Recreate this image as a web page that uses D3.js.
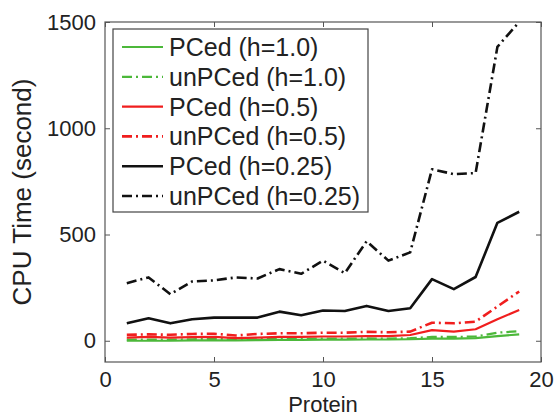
<!DOCTYPE html>
<html><head><meta charset="utf-8">
<script src="https://cdn.jsdelivr.net/npm/d3@7/dist/d3.min.js"></script>
<style>body{margin:0;background:#fff}svg{display:block;font-family:"Liberation Sans",Arial,sans-serif}</style>
</head><body><svg id="c" width="557" height="417"></svg>
<script>
const proteins = [1,2,3,4,5,6,7,8,9,10,11,12,13,14,15,16,17,18,19];
const pcedH10   = [0,0,0,2,2,2,3,4,4,5,5,6,6,7,10,10,12,22,30];
const unpcedH10 = [5,6,5,7,8,6,7,9,9,10,10,11,10,12,18,18,20,38,45];
const pcedH05   = [15,18,15,17,18,12,15,18,18,20,20,22,22,27,50,43,54,101,145];
const unpcedH05 = [28,30,28,32,33,25,32,35,35,38,38,42,40,43,85,82,90,161,232];
const pcedH025  = [82,106,82,101,109,109,109,137,120,142,140,164,140,153,290,243,300,555,607];
const unpcedH025= [271,298,219,279,284,298,293,337,315,377,318,468,377,416,807,784,789,1383,1500];
const seriesNames = ["PCed (h=1.0)","unPCed (h=1.0)","PCed (h=0.5)","unPCed (h=0.5)","PCed (h=0.25)","unPCed (h=0.25)"];
const xTicks = [0,5,10,15,20];
const yTicks = [0,500,1000,1500];

const series = [
  {name:seriesNames[0], vals:pcedH10,   color:"#4cb83a", dash:null, w:2.2},
  {name:seriesNames[1], vals:unpcedH10, color:"#4cb83a", dash:"10,4,2,4", w:2.2},
  {name:seriesNames[2], vals:pcedH05,   color:"#f01e1e", dash:null, w:2.2},
  {name:seriesNames[3], vals:unpcedH05, color:"#f01e1e", dash:"10,4,2,4", w:2.6},
  {name:seriesNames[4], vals:pcedH025,  color:"#111", dash:null, w:2.6},
  {name:seriesNames[5], vals:unpcedH025,color:"#111", dash:"10,4,2,4", w:2.6}
];

const L=105, R=541, T=22, B=362;
const svg = d3.select("#c");
const x = d3.scaleLinear().domain([0,20]).range([L,R]);
const y = d3.scaleLinear().domain([-100,1500]).range([B,T]);
const fmt = d3.format("d");

svg.append("defs").append("clipPath").attr("id","clip")
  .append("rect").attr("x",L).attr("y",T).attr("width",R-L).attr("height",B-T);

const axCol="#555";
const gx = svg.append("g").attr("transform",`translate(0,${B})`)
  .call(d3.axisBottom(x).tickValues(xTicks).tickFormat(fmt).tickSize(-5).tickPadding(9));
const gx2 = svg.append("g").attr("transform",`translate(0,${T})`)
  .call(d3.axisTop(x).tickValues(xTicks).tickSize(-5).tickFormat(""));
const gy = svg.append("g").attr("transform",`translate(${L},0)`)
  .call(d3.axisLeft(y).tickValues(yTicks).tickFormat(fmt).tickSize(-5).tickPadding(9));
const gy2 = svg.append("g").attr("transform",`translate(${R},0)`)
  .call(d3.axisRight(y).tickValues(yTicks).tickSize(-5).tickFormat(""));
[gx,gx2,gy,gy2].forEach(g=>{
  g.selectAll(".domain").remove();
  g.selectAll("line").attr("stroke",axCol);
  g.selectAll("text").attr("font-size",22).attr("fill","#222").attr("font-family","Liberation Sans, Arial, sans-serif");
});
svg.append("rect").attr("x",L).attr("y",T).attr("width",R-L).attr("height",B-T)
  .attr("fill","none").attr("stroke",axCol).attr("stroke-width",1.2);

const line = d3.line().x((d,i)=>x(proteins[i])).y(d=>y(d));
const plot = svg.append("g").attr("clip-path","url(#clip)");
series.forEach(s=>{
  plot.append("path").datum(s.vals).attr("d",line)
    .attr("fill","none").attr("stroke",s.color).attr("stroke-width",s.w)
    .attr("stroke-dasharray",s.dash).attr("stroke-linejoin","round");
});

const lg = svg.append("g");
lg.append("rect").attr("x",113).attr("y",29).attr("width",255).attr("height",183)
  .attr("fill","#fff").attr("stroke","#444").attr("stroke-width",1.2);
series.forEach((s,i)=>{
  const cy = 47 + i*29.8;
  lg.append("line").attr("x1",122).attr("x2",163).attr("y1",cy).attr("y2",cy)
    .attr("stroke",s.color).attr("stroke-width",s.w).attr("stroke-dasharray",s.dash);
  lg.append("text").attr("x",169).attr("y",cy).attr("dy","0.36em")
    .attr("font-size",25).attr("fill","#222").text(s.name);
});

svg.append("text").attr("x",(L+R)/2).attr("y",412).attr("text-anchor","middle")
  .attr("font-size",22).attr("fill","#222").text("Protein");
svg.append("text").attr("transform",`translate(31,${(T+B)/2}) rotate(-90)`)
  .attr("text-anchor","middle").attr("font-size",26).attr("fill","#222").text("CPU Time (second)");
</script></body></html>
